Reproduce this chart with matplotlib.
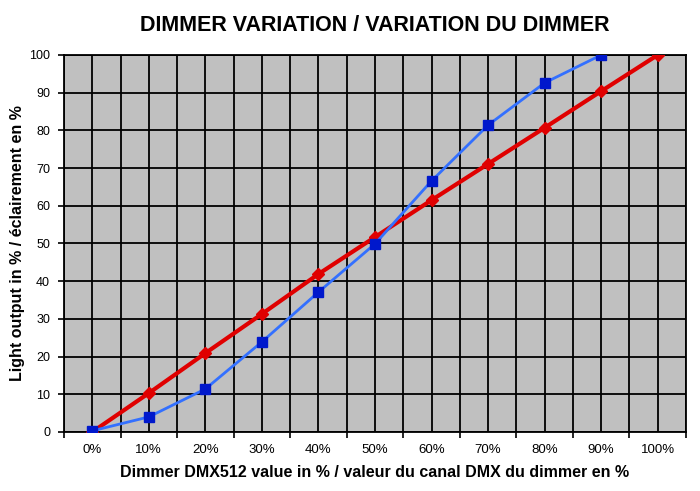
import numpy as np
import matplotlib.pyplot as plt

plt.rcParams['font.family'] = ['Liberation Sans', 'DejaVu Sans']

categories = ['0%', '10%', '20%', '30%', '40%', '50%', '60%', '70%', '80%', '90%', '100%']
linear = [0, 10.3, 20.9, 31.3, 41.9, 51.7, 61.5, 71.1, 80.7, 90.4, 100]
dimmer = [0.3, 4.0, 11.4, 23.9, 37.1, 49.9, 66.6, 81.4, 92.6, 100]

fig = plt.figure(figsize=(7, 4.91), dpi=100)
ax = fig.add_axes([0.0914, 0.1202, 0.8886, 0.7678])
ax.set_facecolor('#C0C0C0')

x = np.arange(len(categories))
ax.plot(x, linear, color='#E00000', lw=3, marker='D', ms=6, zorder=3)
ax.plot(x[:len(dimmer)], dimmer, color='#3370FF', lw=2, marker='s', ms=6.5,
        mfc='#0018CC', mec='#0018CC', zorder=4)

ax.set_xlim(-0.5, len(categories) - 0.5)
ax.set_ylim(0, 100)
ax.set_xticks(x)
ax.set_xticklabels(categories, fontsize=9.5)
ax.set_xticks(np.arange(-0.5, len(categories)), minor=True)
ax.set_yticks(np.arange(0, 101, 10))
ax.tick_params(axis='x', which='major', length=0, pad=9)
ax.tick_params(axis='x', which='minor', length=4, direction='out', width=1.2)
ax.tick_params(axis='y', length=4, direction='out', width=1.2, labelsize=9, pad=6)
ax.grid(True, which='both', color='black', lw=1.3)
ax.set_axisbelow(True)
for s in ax.spines.values():
    s.set_linewidth(1.3)

ax.set_title('DIMMER VARIATION / VARIATION DU DIMMER', fontsize=15.5, fontweight='bold', pad=17)
ax.set_xlabel('Dimmer DMX512 value in % / valeur du canal DMX du dimmer en %', fontsize=11.5, fontweight='bold', labelpad=6)
ax.set_ylabel('Light output in % / éclairement en %', fontsize=11.5, fontweight='bold', labelpad=3)

fig.savefig('out.png', dpi=100)
